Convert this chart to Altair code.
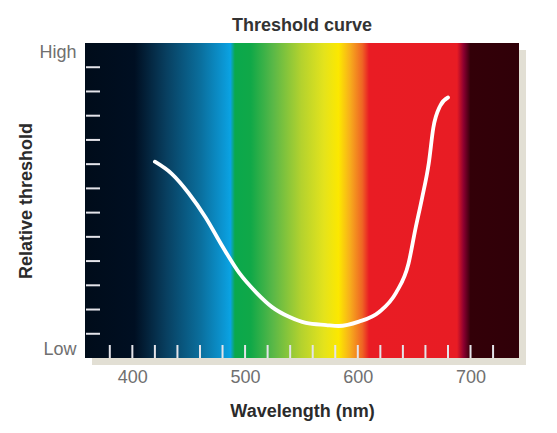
import pandas as pd
import altair as alt

# Spectrum background: wavelength stops (nm) and their colours
spectrum_wl = [358, 402, 430, 460, 480, 487, 491, 505, 525, 550, 570, 583, 593, 604, 610, 688, 694, 700, 743]
spectrum_colors = ['#000c1a', '#000f22', '#083f60', '#0a6e9c', '#0b94d0', '#0aa3e3', '#0aa84c',
                   '#10a848', '#5ab847', '#b4d22e', '#e4e31c', '#fce800', '#f7ae1c', '#ef6424',
                   '#e91c24', '#e81c24', '#8a0030', '#330008', '#300008']

# Threshold curve (y: 0 = Low, 13 = High)
curve_wl = [420, 435, 450, 465, 480, 495, 510, 524, 539, 554, 572, 583, 601, 619, 634, 645, 651, 657, 663, 667, 673, 680]
curve_val = [8.1, 7.6, 6.8, 5.8, 4.6, 3.5, 2.7, 2.1, 1.7, 1.45, 1.36, 1.32, 1.5, 1.9, 2.7, 3.9, 5.3, 6.6, 8.05, 9.5, 10.4, 10.75]

x_ticks = list(range(380, 721, 20))
y_ticks = list(range(1, 13))
x_labels = [400, 500, 600, 700]

W, H = 434, 315
lo, hi = spectrum_wl[0], spectrum_wl[-1]

stops = [alt.GradientStop(offset=(w - lo) / (hi - lo), color=c)
         for w, c in zip(spectrum_wl, spectrum_colors)]

band = pd.DataFrame({'lo': [lo], 'hi': [hi], 'ylo': [0], 'yhi': [13]})
curve = pd.DataFrame({'wl': curve_wl, 'val': curve_val})
xt = pd.DataFrame({'wl': x_ticks})
yt = pd.DataFrame({'v': y_ticks})

xscale = alt.Scale(domain=[lo, hi], nice=False, zero=False)
yscale = alt.Scale(domain=[0, 13], nice=False)

# soft drop shadow behind the plot, carries the axes
shadow = alt.Chart(band).mark_rect(
    xOffset=7, x2Offset=7, yOffset=7, y2Offset=7, color='#d6d2c2', opacity=0.7
).encode(
    x=alt.X('lo:Q', scale=xscale, title='Wavelength (nm)',
            axis=alt.Axis(values=x_labels, ticks=False, domain=False, grid=False,
                          labelPadding=10, titlePadding=16)),
    x2='hi:Q',
    y=alt.Y('ylo:Q', scale=yscale, title='Relative threshold',
            axis=alt.Axis(values=[0, 13], ticks=False, domain=False, grid=False,
                          labelExpr="datum.value == 0 ? 'Low' : 'High'",
                          labelFlush=True, labelPadding=9, titlePadding=3)),
    y2='yhi:Q'
)

spectrum = alt.Chart(band).mark_rect(
    color=alt.Gradient(gradient='linear', stops=stops, x1=0, x2=1, y1=0, y2=0)
).encode(
    x=alt.X('lo:Q', scale=xscale), x2='hi:Q',
    y=alt.Y('ylo:Q', scale=yscale), y2='yhi:Q'
)

xtick_rules = alt.Chart(xt).mark_rule(color='#e4e4ea', strokeWidth=2).encode(
    x=alt.X('wl:Q', scale=xscale),
    y=alt.value(H), y2=alt.value(H - 13)
)

ytick_rules = alt.Chart(yt).mark_rule(color='#e4e4ea', strokeWidth=2).encode(
    y=alt.Y('v:Q', scale=yscale),
    x=alt.value(1), x2=alt.value(15)
)

line = alt.Chart(curve).mark_line(color='white', strokeWidth=3.8, strokeCap='round',
                                  interpolate='monotone').encode(
    x=alt.X('wl:Q', scale=xscale),
    y=alt.Y('val:Q', scale=yscale)
)

chart = alt.layer(shadow, spectrum, xtick_rules, ytick_rules, line).properties(
    width=W, height=H,
    title=alt.Title('Threshold curve', fontSize=18, fontWeight='bold', color='#333', offset=8),
    padding={'left': 9, 'top': 9, 'right': 5, 'bottom': 5}
).configure(
    font='Liberation Sans'
).configure_axis(
    labelFontSize=18, labelColor='#707070', titleFontSize=18, titleColor='#2b2b2b',
    titleFontWeight='bold'
).configure_view(stroke=None)

chart.save("out.html", embed_options={"renderer": "svg", "actions": False})
